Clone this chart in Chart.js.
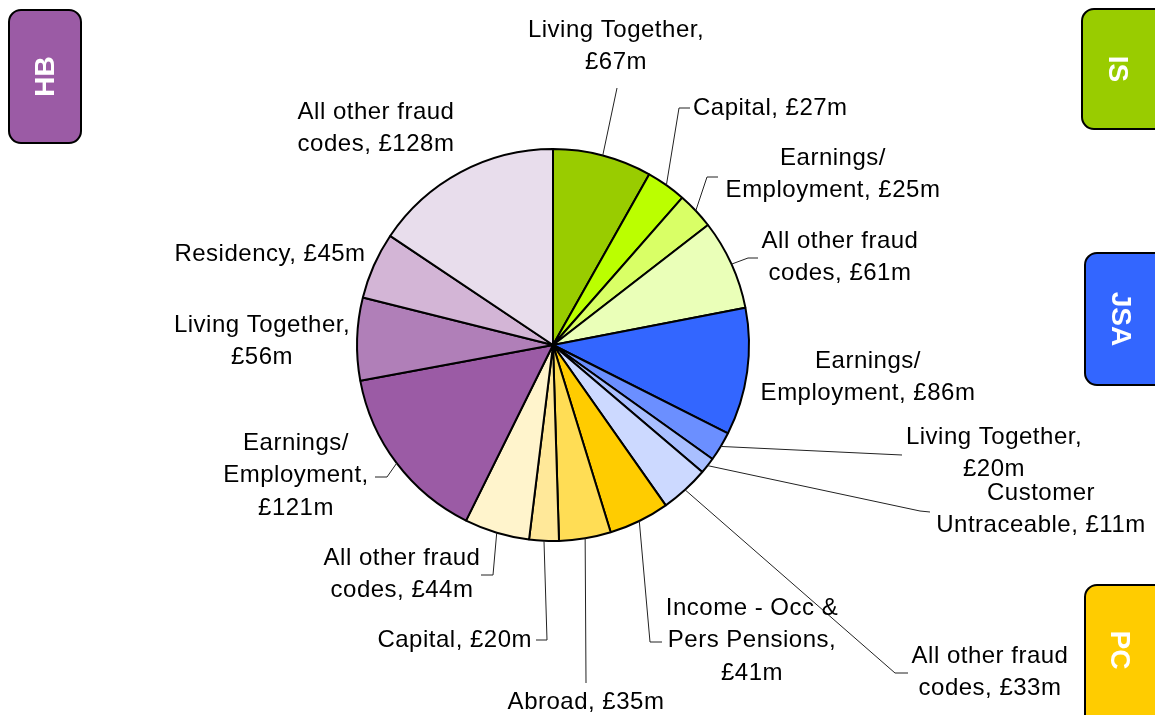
<!DOCTYPE html>
<html>
<head>
<meta charset="utf-8">
<script src="https://cdn.jsdelivr.net/npm/chart.js@4.4.0/dist/chart.umd.min.js"></script>
<style>
  html, body { margin: 0; padding: 0; background: #fff; }
  #wrap { width: 1155px; height: 715px; }
</style>
</head>
<body>
<div id="wrap"><canvas id="fraud" width="1155" height="715"></canvas></div>
<script>
// benefit groups, clockwise from 12 o'clock
var groups = ['IS', 'JSA', 'PC', 'HB'];
var categories = [
    'Living Together', 'Capital', 'Earnings/ Employment', 'All other fraud codes',
    'Earnings/ Employment', 'Living Together', 'Customer Untraceable', 'All other fraud codes',
    'Income - Occ & Pers Pensions', 'Abroad', 'Capital', 'All other fraud codes',
    'Earnings/ Employment', 'Living Together', 'Residency', 'All other fraud codes'
];
// £ million
var values = [67, 27, 25, 61, 86, 20, 11, 33, 41, 35, 20, 44, 121, 56, 45, 128];
var labelLines = [
    ['Living Together,', '£67m'],
    ['Capital, £27m'],
    ['Earnings/', 'Employment, £25m'],
    ['All other fraud', 'codes, £61m'],
    ['Earnings/', 'Employment, £86m'],
    ['Living Together,', '£20m'],
    ['Customer', 'Untraceable, £11m'],
    ['All other fraud', 'codes, £33m'],
    ['Income - Occ &', 'Pers Pensions,', '£41m'],
    ['Abroad, £35m'],
    ['Capital, £20m'],
    ['All other fraud', 'codes, £44m'],
    ['Earnings/', 'Employment,', '£121m'],
    ['Living Together,', '£56m'],
    ['Residency, £45m'],
    ['All other fraud', 'codes, £128m']
];

var sliceColors = [
    '#99CC00', '#BBFF00', '#D9FF66', '#EAFFB8',
    '#3366FF', '#6B8FFF', '#A9BFFF', '#CCD9FF',
    '#FFCC00', '#FFDD55', '#FFE899', '#FFF4CC',
    '#9B5BA5', '#B07FB8', '#D3B5D6', '#E8DDEC'
];
var groupColors = ['#99CC00', '#3366FF', '#FFCC00', '#9B5BA5'];

// label placement: text anchor + leader line bend points (after the arc point)
var labelLayout = [
    { x: 616, y: 30, align: 'center', leader: [[617, 88]] },
    { x: 693, y: 108, align: 'left', leader: [[679, 108], [690, 108]] },
    { x: 833, y: 158, align: 'center', leader: [[707, 177], [718, 177]] },
    { x: 840, y: 241, align: 'center', leader: [[748, 258], [758, 258]] },
    { x: 868, y: 361, align: 'center', leader: null },
    { x: 994, y: 437, align: 'center', leader: [[902, 455]] },
    { x: 1041, y: 493, align: 'center', leader: [[920, 511], [930, 512]] },
    { x: 990, y: 656, align: 'center', leader: [[895, 673], [908, 673]] },
    { x: 752, y: 608, align: 'center', leader: [[650, 642], [662, 642]] },
    { x: 586, y: 702, align: 'center', leader: [[586, 683]] },
    { x: 532, y: 640, align: 'right', leader: [[547, 640], [536, 640]] },
    { x: 402, y: 558, align: 'center', leader: [[493, 575], [481, 575]] },
    { x: 296, y: 443, align: 'center', leader: [[387, 477], [375, 477]] },
    { x: 262, y: 325, align: 'center', leader: null },
    { x: 270, y: 254, align: 'center', leader: null },
    { x: 376, y: 112, align: 'center', leader: null }
];
var tagLayout = [
    { x: 1082, y: 9, w: 90, h: 120, rot: Math.PI / 2 },
    { x: 1085, y: 253, w: 90, h: 132, rot: Math.PI / 2 },
    { x: 1085, y: 585, w: 90, h: 150, rot: Math.PI / 2, tx: 1120, ty: 650 },
    { x: 9, y: 10, w: 72, h: 133, rot: -Math.PI / 2 }
];
var tagOrder = [3, 0, 1, 2]; // HB drawn left, others on the right

var labelPlugin = {
    id: 'sliceLabels',
    afterDraw: function (chart) {
        var ctx = chart.ctx;
        var arcs = chart.getDatasetMeta(0).data;
        ctx.save();
        ctx.font = '24px "Liberation Sans", Arial, sans-serif';
        ctx.letterSpacing = '0.5px';
        ctx.fillStyle = '#000';
        ctx.textBaseline = 'middle';
        ctx.strokeStyle = '#222';
        ctx.lineWidth = 1;
        arcs.forEach(function (arc, i) {
            var lay = labelLayout[i];
            if (lay.leader) {
                var p = arc.getProps(['x', 'y', 'startAngle', 'endAngle', 'outerRadius'], true);
                var mid = (p.startAngle + p.endAngle) / 2;
                ctx.beginPath();
                ctx.moveTo(p.x + Math.cos(mid) * p.outerRadius, p.y + Math.sin(mid) * p.outerRadius);
                lay.leader.forEach(function (pt) { ctx.lineTo(pt[0], pt[1]); });
                ctx.stroke();
            }
            ctx.textAlign = lay.align;
            labelLines[i].forEach(function (line, k) {
                ctx.fillText(line, lay.x, lay.y + k * 32.5);
            });
        });

        // group tags
        groups.forEach(function (g, gi) {
            var t = tagLayout[gi];
            ctx.beginPath();
            ctx.roundRect(t.x, t.y, t.w, t.h, 12);
            ctx.fillStyle = groupColors[gi];
            ctx.fill();
            ctx.lineWidth = 2;
            ctx.strokeStyle = '#000';
            ctx.stroke();
            ctx.save();
            var cx = t.tx || (gi === 3 ? t.x + t.w / 2 : t.x + 36);
            var cy = t.ty || t.y + t.h / 2;
            ctx.translate(cx, cy);
            ctx.rotate(t.rot);
            ctx.fillStyle = '#fff';
            ctx.font = 'bold 28px "Liberation Sans", Arial, sans-serif';
            ctx.letterSpacing = '0px';
            ctx.textAlign = 'center';
            ctx.textBaseline = 'middle';
            ctx.fillText(g, 0, 1);
            ctx.restore();
        });
        ctx.restore();
    }
};

new Chart(document.getElementById('fraud'), {
    type: 'pie',
    data: {
        labels: categories,
        datasets: [{
            data: values,
            backgroundColor: sliceColors,
            borderColor: '#000',
            borderWidth: 2
        }]
    },
    options: {
        responsive: false,
        animation: false,
        layout: { padding: { left: 356, right: 405, top: 148, bottom: 173 } },
        plugins: {
            legend: { display: false },
            tooltip: { enabled: false }
        }
    },
    plugins: [labelPlugin]
});
</script>
</body>
</html>
